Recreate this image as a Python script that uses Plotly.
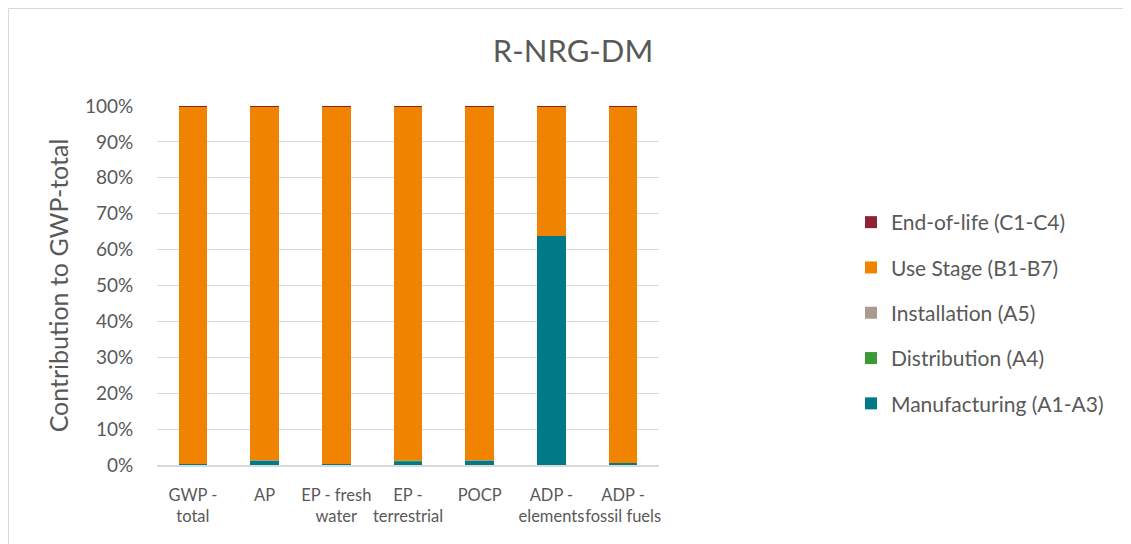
import plotly.graph_objects as go

categories = ["GWP -<br>total", "AP", "EP - fresh<br>water", "EP -<br>terrestrial",
              "POCP", "ADP -<br>elements", "ADP -<br>fossil fuels"]
manufacturing = [0.3, 1.2, 0.3, 1.1, 1.2, 63.7, 0.6]
distribution = [0.05, 0.15, 0.05, 0.25, 0.15, 0.0, 0.05]
installation = [0.03, 0.05, 0.02, 0.05, 0.05, 0.0, 0.03]
end_of_life = [0.01, 0.06, 0.01, 0.06, 0.06, 0.01, 0.01]
use_stage = [100 - m - d - i - e for m, d, i, e in zip(manufacturing, distribution, installation, end_of_life)]

series = [
    ("Manufacturing (A1-A3)", manufacturing, "#007A87"),
    ("Distribution (A4)", distribution, "#3C9A36"),
    ("Installation (A5)", installation, "#A99B8E"),
    ("Use Stage (B1-B7)", use_stage, "#F08300"),
    ("End-of-life (C1-C4)", end_of_life, "#8C2232"),
]

W, H = 1131, 544
L, T, R, B = 149, 98, 480, 87
PW, PH = W - L - R, H - T - B

fig = go.Figure()
n = len(series)
for i, (name, vals, color) in enumerate(series):
    fig.add_trace(go.Bar(
        x=categories, y=[v / 100 for v in vals], name=name,
        marker=dict(color=color, line=dict(width=0)),
        legendgroup=f"g{n - i}", legendrank=n - i,
    ))

fig.update_layout(
    barmode="stack",
    bargap=0.6,
    width=W, height=H,
    margin=dict(l=L, r=R, t=T, b=B, autoexpand=False),
    paper_bgcolor="white", plot_bgcolor="white",
    font=dict(family="Lato, Liberation Sans, sans-serif", color="#595959"),
    title=dict(text="R-NRG-DM", x=(573 - 8) / W, xanchor="center", y=1 - (51 - 8) / H, yanchor="middle",
               font=dict(size=31, color="#595959")),
    legend=dict(traceorder="grouped", x=(843 - L) / PW, xanchor="left",
                y=(H - B - 194) / PH, yanchor="top",
                font=dict(size=21, color="#595959"), tracegroupgap=15,
                itemwidth=30, bgcolor="rgba(0,0,0,0)"),
    showlegend=True,
)
fig.update_yaxes(range=[0, 1], tickformat=".0%", dtick=0.1, showgrid=True,
                 gridcolor="#D9D9D9", gridwidth=1, zeroline=False,
                 tickfont=dict(size=19, color="#595959"),
                 ticks="outside", ticklen=19, tickcolor="rgba(0,0,0,0)",
                 title=dict(text="Contribution to GWP-total", font=dict(size=25, color="#595959"), standoff=9),
                 showline=False, automargin=False)
fig.update_xaxes(showline=True, linecolor="#D9D9D9", linewidth=1.5,
                 tickfont=dict(size=16.5, color="#595959"), tickangle=0,
                 ticks="outside", ticklen=14, tickcolor="rgba(0,0,0,0)", automargin=False)
fig.add_shape(type="rect", xref="paper", yref="paper",
              x0=-(L - 0.5) / PW, x1=(W - L - 0.5) / PW, y0=-(B - 0.5) / PH, y1=1 + (T - 0.5) / PH,
              line=dict(color="#D9D9D9", width=1), fillcolor="rgba(0,0,0,0)", layer="below")

fig.write_html("out.html")
